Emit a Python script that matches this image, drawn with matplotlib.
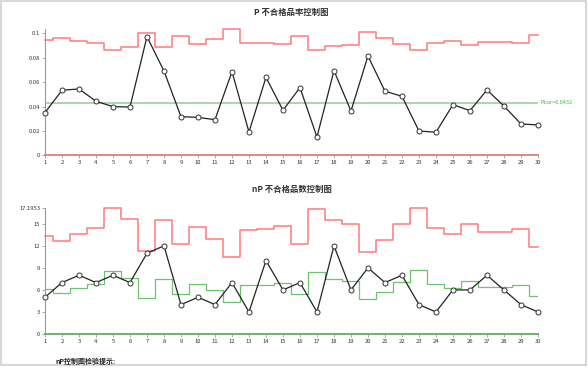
import numpy as np
import matplotlib
matplotlib.use("Agg")
import matplotlib.pyplot as plt
from matplotlib.patches import Rectangle

plt.rcParams['font.family'] = ['Noto Sans CJK SC', 'DejaVu Sans']

# sample numbers
samples = list(range(1, 31))

# P chart: nonconforming rate and upper control limit (per sample)
p_values = [0.0350, 0.0533, 0.0544, 0.0443, 0.0399, 0.0396, 0.0973, 0.0691, 0.0317, 0.0311,
            0.0292, 0.0686, 0.0191, 0.0639, 0.0369, 0.0555, 0.0150, 0.0694, 0.0363, 0.0814,
            0.0525, 0.0484, 0.0199, 0.0189, 0.0415, 0.0366, 0.0536, 0.0404, 0.0257, 0.0249]
p_ucl = [0.0943, 0.0964, 0.0934, 0.0918, 0.0863, 0.0888, 0.1005, 0.0891, 0.0978, 0.0915,
         0.0954, 0.1033, 0.0923, 0.0920, 0.0910, 0.0975, 0.0863, 0.0893, 0.0904, 0.1011,
         0.0959, 0.0910, 0.0861, 0.0918, 0.0934, 0.0904, 0.0926, 0.0929, 0.0918, 0.0989]
p_bar = 0.0432
p_yticks = [0, 0.02, 0.04, 0.06, 0.08, 0.1]
p_yticklabels = ['0', '0.02', '0.04', '0.06', '0.08', '0.1']

# nP chart: nonconforming count, centre line and upper control limit
np_values = [5, 7, 8, 7, 8, 7, 11, 12, 4, 5, 4, 7, 3, 10, 6,
             7, 3, 12, 6, 9, 7, 8, 4, 3, 6, 6, 8, 6, 4, 3]
np_cl = [6.17, 5.63, 6.31, 6.81, 8.62, 7.58, 4.90, 7.49, 5.40, 6.85, 5.94, 4.40, 6.62, 6.72, 6.99,
         5.44, 8.48, 7.49, 7.17, 4.81, 5.76, 7.12, 8.67, 6.81, 6.31, 7.17, 6.44, 6.35, 6.72, 5.17]
np_ucl = [13.38, 12.66, 13.66, 14.47, 17.1953, 15.70, 11.34, 15.47, 12.20, 14.56, 12.98, 10.53, 14.16, 14.34, 14.75,
          12.30, 17.01, 15.52, 15.02, 11.16, 12.75, 14.93, 17.1953, 14.47, 13.66, 15.02, 13.93, 13.84, 14.29, 11.84]
np_yticks = [0, 3, 6, 9, 12, 15, 17.1953]
np_yticklabels = ['0', '3', '6', '9', '12', '15', '17.1953']

RED = '#ff7b7b'
GREEN_LINE = '#8fd08f'
GREEN_STEP = '#6cc46c'


def style_axes(ax, ymax, yticks, yticklabels, base_color):
    ax.set_xlim(1, 30)
    ax.set_ylim(0, ymax)
    for s in ['top', 'right']:
        ax.spines[s].set_visible(False)
    ax.spines['left'].set_color('#999999')
    ax.spines['left'].set_linewidth(0.8)
    ax.spines['bottom'].set_color(base_color)
    ax.spines['bottom'].set_linewidth(1.3)
    ax.set_xticks(samples)
    ax.set_xticklabels([str(s) for s in samples])
    ax.set_yticks(yticks)
    ax.set_yticklabels(yticklabels)
    ax.tick_params(axis='both', labelsize=4.2, length=2, width=0.5, pad=1.5,
                   colors='#888888', labelcolor='#333333')


fig = plt.figure(figsize=(5.88, 3.68), dpi=100)

# P chart
ax1 = fig.add_axes([0.0765, 0.578, 0.8384, 0.3424])
ax1.step(samples, p_ucl, where='mid', color=RED, lw=1.1, clip_on=False)
ax1.axhline(p_bar, color=GREEN_LINE, lw=1.1)
ax1.plot(samples, p_values, color='#222222', lw=0.9, marker='o', markersize=3.6,
         markerfacecolor='white', markeredgecolor='#333333', markeredgewidth=0.7,
         clip_on=False, zorder=5)
ax1.text(30.15, p_bar, 'Pbar=0.0432', color='#4caf50', fontsize=4, va='center', ha='left')
style_axes(ax1, max(p_ucl), p_yticks, p_yticklabels, '#d98080')
ax1.set_title('P 不合格品率控制图', fontsize=6, fontweight='bold', color='#333333', pad=10)

# nP chart
ax2 = fig.add_axes([0.0765, 0.0924, 0.8384, 0.3432])
ax2.step(samples, np_ucl, where='mid', color=RED, lw=1.1, clip_on=False)
ax2.step(samples, np_cl, where='mid', color=GREEN_STEP, lw=0.9)
ax2.plot(samples, np_values, color='#222222', lw=0.9, marker='o', markersize=3.6,
         markerfacecolor='white', markeredgecolor='#333333', markeredgewidth=0.7,
         clip_on=False, zorder=5)
style_axes(ax2, max(np_ucl), np_yticks, np_yticklabels, '#5fae5f')
ax2.set_title('nP 不合格品数控制图', fontsize=6, fontweight='bold', color='#333333', pad=11)

fig.text(55 / 588, 1 - 361 / 368, 'nP控制图检验提示:', fontsize=5, fontweight='bold',
         color='#222222', va='center', ha='left')

# light frame around the picture
fig.patches.append(Rectangle((0.002, 0.008), 0.995, 0.99, transform=fig.transFigure,
                             fill=False, edgecolor='#d8d8d8', lw=1.5))

fig.savefig('out.png', dpi=100)
